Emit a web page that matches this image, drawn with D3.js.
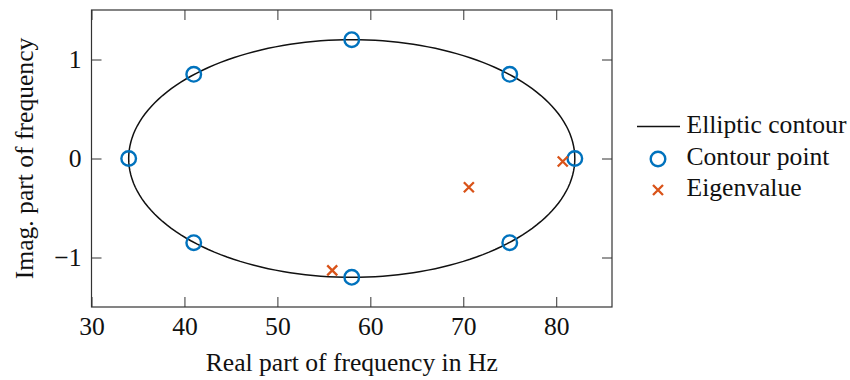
<!DOCTYPE html>
<meta charset="utf-8">
<style>
  body { margin: 0; background: #fff; }
  text { font-family: "Liberation Serif", "DejaVu Serif", serif; fill: #111; }
  .axis path, .axis line { stroke: #333; stroke-width: 1px; }
</style>
<body>
<script src="https://cdn.jsdelivr.net/npm/d3@7"></script>
<script>
  // ellipse contour (center, semi-axes) and the sampled contour points
  var ellipseCenter = [58, 0];
  var ellipseRadii = [24, 1.2];
  var contourRe = [82, 75, 58, 41, 34, 41, 58, 75];
  var contourIm = [0, 0.85, 1.2, 0.85, 0, -0.85, -1.2, -0.85];
  var eigRe = [80.7, 70.6, 55.9];
  var eigIm = [-0.03, -0.29, -1.13];
  var xTicks = [30, 40, 50, 60, 70, 80];
  var yTicks = [-1, 0, 1];
  var legendLabels = ["Elliptic contour", "Contour point", "Eigenvalue"];

  var W = 850, H = 380;
  var margin = { left: 91.5, top: 10, right: 238, bottom: 73 };
  var w = W - margin.left - margin.right,
      h = H - margin.top - margin.bottom;

  var blue = "#0072BD", orange = "#D95319";
  var fs = "25.6px";

  var svg = d3.select("body").append("svg")
    .attr("width", W).attr("height", H);
  var g = svg.append("g")
    .attr("transform", "translate(" + margin.left + "," + margin.top + ")");

  var x = d3.scaleLinear().domain([30, 86]).range([0, w]);
  var y = d3.scaleLinear().domain([-1.5, 1.5]).range([h, 0]);

  var tickLen = 10;
  function tickfmt(d) { return d < 0 ? "\u2212" + Math.abs(d) : d; }

  // bottom / left axes with inward ticks
  g.append("g").attr("class", "axis")
    .attr("transform", "translate(0," + h + ")")
    .call(d3.axisBottom(x).tickValues(xTicks).tickSizeInner(-tickLen).tickSizeOuter(0).tickPadding(10).tickFormat(tickfmt))
    .call(function(s) { s.selectAll("text").style("font-size", fs); s.select(".domain").remove(); });
  g.append("g").attr("class", "axis")
    .call(d3.axisLeft(y).tickValues(yTicks).tickSizeInner(-tickLen).tickSizeOuter(0).tickPadding(10).tickFormat(tickfmt))
    .call(function(s) { s.selectAll("text").style("font-size", fs); s.select(".domain").remove(); });
  // top / right mirror ticks
  g.append("g").attr("class", "axis")
    .call(d3.axisTop(x).tickValues(xTicks).tickSizeInner(-tickLen).tickSizeOuter(0).tickFormat(""))
    .call(function(s) { s.select(".domain").remove(); });
  g.append("g").attr("class", "axis")
    .attr("transform", "translate(" + w + ",0)")
    .call(d3.axisRight(y).tickValues(yTicks).tickSizeInner(-tickLen).tickSizeOuter(0).tickFormat(""))
    .call(function(s) { s.select(".domain").remove(); });

  g.append("rect")
    .attr("width", w).attr("height", h)
    .attr("fill", "none").attr("stroke", "#333").attr("stroke-width", 1.2);

  // elliptic contour
  var ang = d3.range(0, 361, 2).map(function(a) { return a * Math.PI / 180; });
  var line = d3.line()
    .x(function(t) { return x(ellipseCenter[0] + ellipseRadii[0] * Math.cos(t)); })
    .y(function(t) { return y(ellipseCenter[1] + ellipseRadii[1] * Math.sin(t)); });
  g.append("path").datum(ang)
    .attr("d", line).attr("fill", "none").attr("stroke", "#111").attr("stroke-width", 1.5);

  // contour points
  g.selectAll(".cp").data(contourRe).enter().append("circle")
    .attr("class", "cp")
    .attr("cx", function(d) { return x(d); })
    .attr("cy", function(d, i) { return y(contourIm[i]); })
    .attr("r", 7.3)
    .attr("fill", "none").attr("stroke", blue).attr("stroke-width", 2.4);

  // eigenvalues
  var cross = function(cx, cy, s) {
    return "M" + (cx - s) + "," + (cy - s) + "L" + (cx + s) + "," + (cy + s) +
           "M" + (cx - s) + "," + (cy + s) + "L" + (cx + s) + "," + (cy - s);
  };
  g.selectAll(".ev").data(eigRe).enter().append("path")
    .attr("class", "ev")
    .attr("d", function(d, i) { return cross(x(d), y(eigIm[i]), 5); })
    .attr("stroke", orange).attr("stroke-width", 2.3).attr("fill", "none");

  // axis labels
  svg.append("text")
    .attr("x", margin.left + w / 2).attr("y", 371)
    .attr("text-anchor", "middle").style("font-size", fs)
    .text("Real part of frequency in Hz");
  svg.append("text")
    .attr("transform", "translate(33," + (margin.top + y(0)) + ") rotate(-90)")
    .attr("text-anchor", "middle").style("font-size", fs)
    .text("Imag. part of frequency");

  // legend
  var lg = svg.append("g").attr("transform", "translate(637,126.5)");
  lg.append("line").attr("x1", 0).attr("x2", 43).attr("y1", 0).attr("y2", 0)
    .attr("stroke", "#111").attr("stroke-width", 1.5);
  lg.append("circle").attr("cx", 21).attr("cy", 32.5).attr("r", 7.3)
    .attr("fill", "none").attr("stroke", blue).attr("stroke-width", 2.4);
  lg.append("path").attr("d", cross(21, 63.5, 5))
    .attr("stroke", orange).attr("stroke-width", 2.3);
  lg.selectAll(".lt").data(legendLabels).enter().append("text")
    .attr("x", 49.5).attr("y", function(d, i) { return i * 31.5 + 6.5; })
    .style("font-size", fs)
    .text(function(d) { return d; });
</script>
</body>
